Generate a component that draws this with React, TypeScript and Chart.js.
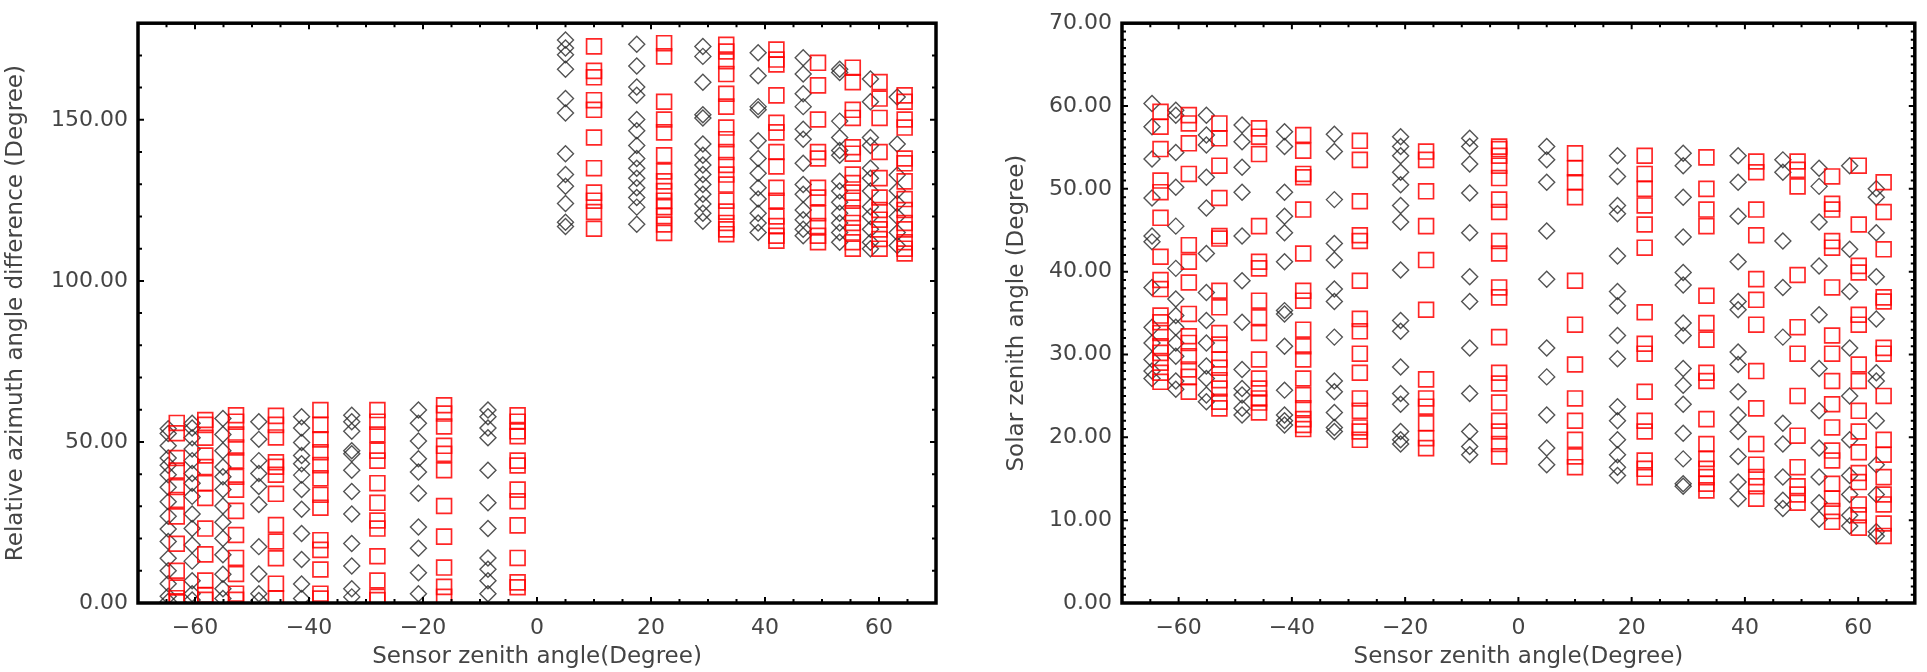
import React, { useEffect, useRef } from 'react';
import { Chart, registerables } from 'chart.js';

Chart.register(...registerables);

// ---------------- data ----------------
const diamondCols = [-64.7, -60.5, -55.1, -48.8, -41.3, -32.5, -20.8, -8.6, 5.0, 17.5, 29.1, 38.8, 46.7, 53.1, 58.5, 63.2];
const squareCols = [-63.2, -58.2, -52.8, -45.8, -38.0, -28.0, -16.3, -3.4, 10.0, 22.3, 33.2, 42.0, 49.3, 55.4, 60.1, 64.5];

const azDiamondY = [
  [54.1, 52.6, 48.8, 45.0, 42.8, 39.8, 35.9, 31.4, 26.9, 23.0, 19.1, 13.9, 10.0, 6.0, 2.1, 0.5],
  [55.8, 54.3, 51.3, 47.8, 44.2, 40.2, 37.2, 33.1, 27.6, 23.1, 18.0, 13.0, 6.9, 2.9, 0.9],
  [57.3, 52.3, 47.3, 42.2, 39.2, 35.2, 30.1, 25.1, 20.0, 15.0, 8.9, 4.4, 1.4],
  [56.3, 50.8, 44.2, 40.2, 36.2, 30.6, 17.5, 9.0, 2.9, 0.8],
  [57.8, 54.3, 49.8, 45.8, 43.2, 39.7, 35.2, 29.1, 21.6, 13.5, 5.9, 1.4],
  [58.3, 56.3, 53.3, 47.3, 46.3, 41.2, 34.6, 27.6, 18.5, 11.5, 4.4, 1.9],
  [59.9, 55.8, 50.3, 44.8, 40.7, 34.1, 23.6, 17.0, 9.4, 2.9],
  [59.9, 57.8, 54.3, 51.3, 41.2, 31.1, 23.1, 14.0, 10.5, 6.9, 2.9],
  [174.8, 172.3, 170.2, 165.7, 156.6, 152.1, 139.5, 133.0, 129.4, 124.0, 118.2, 116.9],
  [173.5, 166.7, 160.2, 157.6, 150.1, 146.6, 142.0, 138.0, 135.0, 131.9, 128.9, 125.9, 122.9, 117.6],
  [172.8, 169.7, 161.7, 151.6, 150.6, 142.5, 139.0, 136.0, 133.0, 129.9, 126.9, 123.9, 121.0, 118.5],
  [170.8, 163.7, 154.1, 153.1, 143.5, 138.0, 133.4, 128.9, 125.4, 121.0, 118.0, 115.0],
  [169.3, 164.2, 158.1, 154.1, 147.1, 144.0, 136.5, 129.9, 126.9, 122.0, 119.0, 116.0, 114.0],
  [165.7, 164.7, 149.6, 144.5, 140.5, 139.0, 130.9, 127.9, 124.4, 121.0, 118.0, 115.0, 112.0],
  [162.7, 155.6, 144.5, 142.0, 135.0, 131.9, 127.9, 123.0, 120.0, 116.0, 112.0, 110.0],
  [157.1, 142.5, 132.9, 128.0, 124.0, 120.0, 115.0, 111.0],
];

const azSquareY = [
  [55.9, 52.7, 45.0, 41.1, 36.0, 32.0, 26.9, 18.4, 10.0, 4.8, 1.5, 0.5],
  [56.8, 55.3, 51.3, 45.8, 42.2, 37.2, 32.6, 23.1, 15.1, 7.0, 2.5, 1.0],
  [58.3, 56.3, 52.3, 48.3, 44.2, 39.2, 35.2, 28.6, 21.1, 14.0, 9.0, 2.9, 1.0],
  [58.1, 55.3, 51.4, 43.7, 42.3, 39.8, 33.9, 24.2, 19.1, 13.9, 6.0, 1.5],
  [59.9, 55.3, 50.8, 46.8, 42.8, 38.7, 33.6, 29.6, 19.5, 16.5, 10.4, 2.9, 1.4],
  [59.9, 56.3, 52.3, 47.3, 44.2, 37.2, 31.1, 25.6, 23.1, 14.5, 7.0, 1.9, 0.9],
  [61.4, 58.8, 54.8, 48.8, 46.3, 41.2, 30.1, 20.6, 11.0, 5.0, 1.9],
  [58.3, 56.3, 53.3, 51.8, 44.2, 42.7, 35.2, 31.6, 24.1, 14.0, 6.4, 4.9],
  [172.8, 165.2, 163.2, 156.1, 153.1, 144.5, 135.0, 127.4, 124.9, 121.4, 116.2],
  [173.8, 169.7, 155.6, 150.1, 146.1, 139.0, 134.0, 130.9, 127.9, 124.9, 122.9, 120.1, 117.5, 114.9],
  [173.3, 171.2, 168.2, 164.2, 158.1, 154.1, 147.6, 144.0, 140.0, 136.0, 133.0, 129.9, 124.9, 121.5, 118.0, 116.0, 114.5],
  [171.8, 168.7, 167.2, 157.6, 149.1, 146.1, 140.0, 135.5, 128.9, 124.9, 120.0, 117.0, 114.0, 112.5],
  [167.7, 160.7, 150.1, 140.0, 138.0, 128.9, 125.9, 121.0, 117.0, 114.0, 112.0],
  [166.2, 161.7, 153.1, 150.6, 141.5, 139.5, 133.0, 130.4, 127.4, 124.9, 121.0, 118.0, 115.0, 112.0, 110.0],
  [161.7, 156.6, 150.6, 140.0, 131.9, 125.9, 122.0, 119.0, 116.0, 113.0, 110.0],
  [157.6, 155.6, 150.1, 147.6, 138.0, 136.5, 130.9, 125.4, 122.0, 118.0, 116.0, 112.0, 110.0, 108.5],
];

const szaDiamondY = [
  [60.3, 57.5, 53.6, 48.9, 44.3, 43.6, 38.1, 33.3, 31.4, 29.4, 28.0, 27.1],
  [59.5, 58.9, 54.4, 50.2, 45.5, 40.4, 36.7, 34.7, 33.3, 31.4, 29.8, 26.8, 25.8],
  [58.9, 56.5, 55.3, 51.4, 47.7, 42.2, 37.5, 34.1, 31.4, 28.6, 27.1, 25.1, 24.3],
  [57.7, 55.7, 52.6, 49.6, 44.3, 38.9, 33.9, 28.2, 25.9, 25.1, 23.5, 22.7],
  [56.9, 55.1, 49.6, 46.7, 44.7, 41.2, 35.3, 34.9, 31.0, 25.7, 22.7, 22.0, 21.5],
  [56.6, 54.5, 48.7, 43.4, 41.4, 37.9, 36.4, 32.1, 26.8, 25.5, 23.0, 21.2, 20.7],
  [56.3, 55.1, 54.0, 52.0, 50.5, 48.0, 46.0, 40.2, 34.1, 32.8, 28.5, 25.3, 24.0, 20.7, 19.7, 19.2],
  [56.1, 55.1, 53.0, 49.5, 44.7, 39.4, 36.4, 30.8, 25.3, 20.7, 18.9, 17.9],
  [55.1, 53.5, 50.8, 44.9, 39.1, 30.8, 27.3, 22.7, 18.7, 16.7],
  [54.0, 51.5, 48.0, 47.0, 41.9, 37.6, 35.9, 32.3, 29.5, 23.7, 22.0, 19.7, 17.9, 16.4, 15.4],
  [54.3, 52.8, 49.0, 44.2, 39.9, 38.4, 33.8, 32.3, 28.3, 26.3, 24.0, 20.5, 17.4, 14.4, 14.1],
  [54.0, 50.8, 46.7, 41.2, 36.4, 35.4, 30.3, 28.8, 25.5, 22.7, 20.7, 17.7, 14.6, 12.6],
  [53.5, 52.0, 43.7, 38.1, 32.1, 21.7, 19.2, 15.2, 12.4, 11.4],
  [52.5, 50.3, 46.0, 40.7, 34.8, 28.3, 23.2, 18.7, 15.2, 12.1, 10.1],
  [52.8, 42.7, 37.6, 30.8, 25.0, 19.7, 15.4, 13.1, 10.6, 9.3],
  [50.0, 49.0, 44.7, 39.4, 34.3, 27.8, 26.8, 22.0, 16.7, 13.1, 8.6, 8.1],
];

const szaSquareY = [
  [59.3, 57.5, 54.8, 51.0, 49.6, 46.5, 41.8, 39.0, 37.9, 34.7, 33.9, 32.6, 31.0, 30.2, 29.0, 27.8, 26.7],
  [58.9, 57.9, 55.5, 51.8, 43.2, 41.2, 38.7, 34.9, 32.2, 31.4, 29.8, 28.2, 27.3, 25.5],
  [57.9, 56.1, 52.8, 48.9, 44.3, 44.0, 37.7, 35.7, 32.6, 31.2, 29.4, 28.4, 26.9, 25.9, 24.3, 23.5],
  [57.3, 56.3, 54.2, 45.5, 41.2, 40.4, 36.5, 34.5, 32.6, 29.4, 27.1, 25.9, 24.7, 24.2, 23.0],
  [56.5, 54.6, 51.8, 51.4, 47.5, 42.2, 37.7, 36.5, 33.0, 31.0, 29.4, 27.1, 25.1, 23.5, 22.2, 21.5, 21.0],
  [55.8, 53.5, 48.5, 44.4, 43.7, 38.9, 34.3, 32.8, 30.1, 27.8, 24.7, 23.2, 21.2, 20.7, 19.7],
  [54.5, 53.5, 49.7, 45.5, 41.4, 35.4, 27.0, 24.7, 23.7, 21.7, 19.9, 18.7],
  [55.1, 54.8, 54.0, 52.8, 51.3, 48.7, 47.2, 43.7, 42.2, 38.1, 36.9, 32.1, 27.8, 26.5, 24.2, 22.0, 20.7, 19.2, 17.7],
  [54.3, 52.5, 50.8, 49.0, 38.9, 33.6, 28.8, 24.7, 22.0, 19.7, 17.7, 16.4],
  [54.0, 51.8, 50.0, 48.0, 45.7, 42.9, 35.1, 31.3, 30.1, 25.5, 22.0, 20.7, 17.2, 16.2, 15.2],
  [53.8, 50.0, 47.5, 45.5, 37.1, 33.8, 31.8, 27.8, 26.8, 22.2, 19.2, 17.4, 16.2, 15.2, 14.4, 13.6],
  [53.3, 52.0, 47.5, 44.4, 39.1, 36.6, 33.6, 28.0, 23.5, 19.2, 16.7, 15.2, 14.1, 12.6],
  [53.3, 52.3, 50.3, 39.6, 33.3, 30.1, 25.0, 20.2, 16.4, 14.1, 13.1, 12.1],
  [51.5, 48.2, 47.5, 43.7, 42.9, 38.1, 32.3, 30.1, 26.8, 24.0, 21.2, 18.4, 17.2, 14.4, 12.6, 11.1, 9.8],
  [52.8, 45.7, 40.7, 39.9, 34.8, 33.6, 28.8, 26.8, 23.2, 20.7, 18.2, 15.7, 14.6, 11.9, 10.6, 9.1],
  [50.8, 47.2, 42.7, 36.9, 36.4, 30.8, 30.1, 25.0, 19.7, 17.9, 15.2, 13.1, 11.9, 9.6, 8.1],
];

const xTickValues = [-60, -40, -20, 0, 20, 40, 60];
const xTickLabels = ['\u221260', '\u221240', '\u221220', '0', '20', '40', '60'];
const azTickValues = [0, 50, 100, 150];
const azTickLabels = ['0.00', '50.00', '100.00', '150.00'];
const szaTickValues = [0, 10, 20, 30, 40, 50, 60, 70];
const szaTickLabels = ['0.00', '10.00', '20.00', '30.00', '40.00', '50.00', '60.00', '70.00'];

const xTitle = 'Sensor zenith angle(Degree)';
const azTitle = 'Relative azimuth angle difference (Degree)';
const szaTitle = 'Solar zenith angle (Degree)';

// ---------------- styling ----------------
const FONT = "'DejaVu Sans', 'Liberation Sans', sans-serif";
const TEXT = '#444444';

function buildPoints(cols: number[], ys: number[][]) {
  return cols.flatMap((x, i) => ys[i].map((y) => ({ x, y })));
}

const framePlugin = {
  id: 'idlFrame',
  afterDatasetsDraw(chart: any, _args: any, opts: any) {
    const { ctx, chartArea } = chart;
    const { left, right, top, bottom } = chartArea;
    const xs = chart.scales.x;
    const ys = chart.scales.y;
    ctx.save();
    ctx.strokeStyle = '#000';
    ctx.lineCap = 'butt';
    ctx.lineWidth = 2;
    const nX = Math.round((xs.max - xs.min) / opts.xMinor);
    for (let i = 0; i <= nX; i++) {
      const v = xs.min + i * opts.xMinor;
      const px = xs.getPixelForValue(v);
      const L = opts.xMajor.includes(v) ? 6 : 4;
      ctx.beginPath();
      ctx.moveTo(px, bottom);
      ctx.lineTo(px, bottom - L);
      ctx.moveTo(px, top);
      ctx.lineTo(px, top + L);
      ctx.stroke();
    }
    const nY = Math.round((ys.max - ys.min) / opts.yMinor);
    for (let i = 0; i <= nY; i++) {
      const v = ys.min + i * opts.yMinor;
      const py = ys.getPixelForValue(v);
      const L = opts.yMajor.includes(v) ? 6 : 4;
      ctx.beginPath();
      ctx.moveTo(left, py);
      ctx.lineTo(left + L, py);
      ctx.moveTo(right, py);
      ctx.lineTo(right - L, py);
      ctx.stroke();
    }
    ctx.lineWidth = 3.5;
    ctx.strokeRect(left, top, right - left, bottom - top);
    ctx.restore();
  },
};

type PanelProps = {
  left: number;
  width: number;
  yWidth: number;
  padRight: number;
  yMax: number;
  yTicks: number[];
  yLabels: string[];
  yMinor: number;
  yTitle: string;
  yTitlePad: number;
  diamondY: number[][];
  squareY: number[][];
};

function Panel(p: PanelProps) {
  const ref = useRef<HTMLCanvasElement | null>(null);
  useEffect(() => {
    if (!ref.current) return;
    const chart = new Chart(ref.current, {
      type: 'scatter',
      data: {
        datasets: [
          {
            data: buildPoints(squareCols, p.squareY),
            pointStyle: 'rect',
            pointRadius: 10.5,
            pointBorderWidth: 1.7,
            borderColor: 'rgba(255,0,0,0.85)',
            backgroundColor: 'rgba(0,0,0,0)',
          },
          {
            data: buildPoints(diamondCols, p.diamondY),
            pointStyle: 'rectRot',
            pointRadius: 8,
            pointBorderWidth: 1.4,
            borderColor: 'rgba(40,40,40,0.8)',
            backgroundColor: 'rgba(0,0,0,0)',
          },
        ],
      },
      options: {
        responsive: false,
        animation: false,
        devicePixelRatio: 1,
        layout: { padding: { left: 0, right: p.padRight, top: 9, bottom: 0 } },
        plugins: {
          legend: { display: false },
          tooltip: { enabled: false },
          idlFrame: { xMajor: xTickValues, xMinor: 5, yMajor: p.yTicks, yMinor: p.yMinor },
        } as any,
        scales: {
          x: {
            type: 'linear',
            min: -70,
            max: 70,
            grid: { display: false, drawTicks: false },
            border: { display: false },
            afterBuildTicks: (s: any) => {
              s.ticks = xTickValues.map((v) => ({ value: v }));
            },
            afterFit: (s: any) => {
              s.height = 69;
            },
            ticks: {
              padding: 12,
              color: TEXT,
              font: { family: FONT, size: 22 },
              maxRotation: 0,
              autoSkip: false,
              callback: (_v: any, i: number) => xTickLabels[i],
            },
            title: {
              display: true,
              text: xTitle,
              color: TEXT,
              font: { family: FONT, size: 23 },
              padding: { top: 0, bottom: 1 },
            },
          },
          y: {
            type: 'linear',
            min: 0,
            max: p.yMax,
            grid: { display: false, drawTicks: false },
            border: { display: false },
            afterBuildTicks: (s: any) => {
              s.ticks = p.yTicks.map((v) => ({ value: v }));
            },
            afterFit: (s: any) => {
              s.width = p.yWidth;
            },
            ticks: {
              padding: 10,
              color: TEXT,
              font: { family: FONT, size: 22 },
              autoSkip: false,
              callback: (_v: any, i: number) => p.yLabels[i],
            },
            title: {
              display: true,
              text: p.yTitle,
              color: TEXT,
              font: { family: FONT, size: 23 },
              padding: { top: p.yTitlePad, bottom: 0 },
            },
          },
        },
      },
      plugins: [framePlugin],
    } as any);
    return () => chart.destroy();
  }, []);
  return (
    <canvas
      ref={ref}
      width={p.width}
      height={672}
      style={{ position: 'absolute', left: p.left, top: 0, width: p.width, height: 672 }}
    />
  );
}

export default function App() {
  return (
    <div style={{ position: 'absolute', left: 0, top: 0, width: 1927, height: 672, background: '#fff', overflow: 'hidden' }}>
      <Panel
        left={0}
        width={960}
        yWidth={138}
        padRight={24}
        yMax={180}
        yTicks={azTickValues}
        yLabels={azTickLabels}
        yMinor={10}
        yTitle={azTitle}
        yTitlePad={2}
        diamondY={azDiamondY}
        squareY={azSquareY}
      />
      <Panel
        left={960}
        width={967}
        yWidth={162}
        padRight={7}
        yMax={70}
        yTicks={szaTickValues}
        yLabels={szaTickLabels}
        yMinor={1}
        yTitle={szaTitle}
        yTitlePad={43}
        diamondY={szaDiamondY}
        squareY={szaSquareY}
      />
    </div>
  );
}
